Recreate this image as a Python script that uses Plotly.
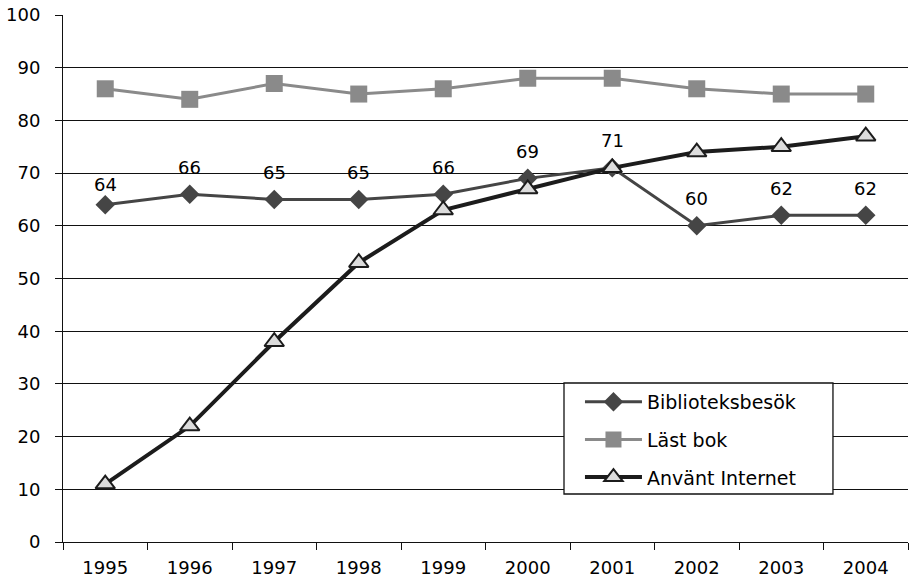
import plotly.graph_objects as go

years = ["1995", "1996", "1997", "1998", "1999", "2000", "2001", "2002", "2003", "2004"]
bibliotek = [64, 66, 65, 65, 66, 69, 71, 60, 62, 62]
last_bok = [86, 84, 87, 85, 86, 88, 88, 86, 85, 85]
internet = [11, 22, 38, 53, 63, 67, 71, 74, 75, 77]
y_ticks = [0, 10, 20, 30, 40, 50, 60, 70, 80, 90, 100]

FONT = "DejaVu Sans, Liberation Sans, Arial, sans-serif"

fig = go.Figure()
fig.add_trace(go.Scatter(
    x=years, y=bibliotek, name="Biblioteksbesök", mode="lines+markers",
    legendgroup="a",
    line=dict(color="#454545", width=3),
    marker=dict(symbol="diamond", size=15, color="#454545"),
))
fig.add_trace(go.Scatter(
    x=years, y=last_bok, name="Läst bok", mode="lines+markers",
    legendgroup="b",
    line=dict(color="#8a8a8a", width=3),
    marker=dict(symbol="square", size=17, color="#8a8a8a"),
))
fig.add_trace(go.Scatter(
    x=years, y=internet, name="Använt Internet", mode="lines+markers",
    legendgroup="c",
    line=dict(color="#1c1c1c", width=4),
    marker=dict(symbol="triangle-up", size=17, color="#dcdcdc",
                line=dict(color="#1c1c1c", width=2)),
))

label_shift = [20, 27, 27, 27, 27, 27, 27, 27, 27, 27]
for i, (yv, sh) in enumerate(zip(bibliotek, label_shift)):
    fig.add_annotation(x=i, y=yv, xref="x", yref="y", text=str(yv), showarrow=False,
                       yshift=sh, font=dict(size=18, color="#000", family=FONT))

# legend frame
fig.add_shape(type="rect", xref="paper", yref="paper",
              x0=0.5929, x1=0.9112, y0=0.0911, y1=0.3017,
              fillcolor="white", line=dict(color="#111", width=1.3), layer="above")

fig.update_layout(
    width=910, height=582,
    margin=dict(l=63, r=2, t=15, b=40, autoexpand=False),
    paper_bgcolor="white", plot_bgcolor="white",
    font=dict(family=FONT, size=18, color="#000"),
    showlegend=True,
    hovermode=False,
    legend=dict(
        x=0.6118, y=0.302, xanchor="left", yanchor="top",
        bgcolor="rgba(0,0,0,0)", borderwidth=0,
        font=dict(size=19, family=FONT), itemwidth=57,
        traceorder="grouped", tracegroupgap=10,
    ),
)
fig.update_xaxes(
    type="category", range=[-0.5, 9.5], automargin=False,
    showline=True, linecolor="#111", linewidth=1,
    ticks="outside", tickson="boundaries", ticklen=7, tickcolor="#111",
    showgrid=False, tickfont=dict(size=18), ticklabelstandoff=9,
)
fig.update_yaxes(
    range=[0, 100], tickvals=y_ticks, automargin=False,
    showline=True, linecolor="#111", linewidth=1,
    ticks="outside", ticklen=7, tickcolor="#111",
    showgrid=True, gridcolor="#111", gridwidth=1,
    zeroline=False, tickfont=dict(size=18), ticklabelstandoff=11,
    ticklabeloverflow="allow",
)

fig.write_html("out.html", config={"displayModeBar": False},
               post_script="document.body.style.margin='0';")
